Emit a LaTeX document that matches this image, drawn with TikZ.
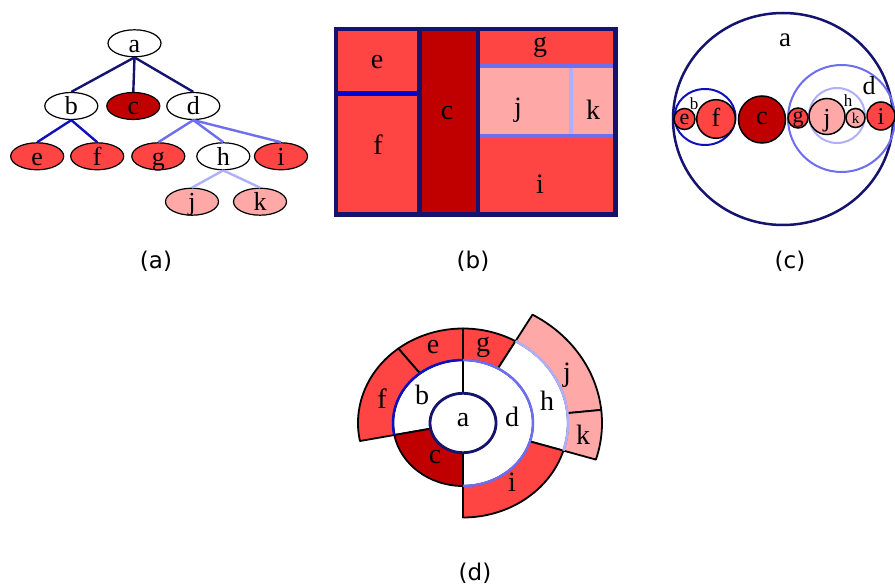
\documentclass[tikz,border=0pt]{standalone}
\usepackage{fontspec}
\setmainfont{Liberation Serif}
\newfontfamily\capfont{DejaVu Sans}
\usetikzlibrary{shapes.geometric}
\definecolor{navy}{RGB}{20,20,110}
\definecolor{dblue}{RGB}{15,15,190}
\definecolor{mblue}{RGB}{110,110,240}
\definecolor{lblue}{RGB}{175,175,250}
\definecolor{redl}{RGB}{255,68,68}
\definecolor{redd}{RGB}{192,0,0}
\definecolor{pinkl}{RGB}{255,168,168}
\newcommand\fs[1]{\fontsize{#1}{#1}\selectfont}
\newcommand\sect[5]{%
  \filldraw[fill=#1,draw=black,line width=1.8pt,line join=round]
    (#2:#4) arc[start angle=#2,end angle=#3,radius=#4] --
    (#3:#5) arc[start angle=#3,end angle=#2,radius=#5] -- cycle;}
\tikzset{
  tnode/.style={ellipse,draw=black,line width=1.2pt,minimum width=53pt,
    minimum height=27pt,inner sep=0pt,text height=18pt,text depth=0pt,font=\fs{26}},
  tedge/.style={line width=2.4pt},
  capt/.style={anchor=base,inner sep=0pt,font=\capfont\fs{23}},
  lbl/.style={anchor=base,inner sep=0pt},
  leaf/.style={draw=black,line width=1.5pt},
}
\begin{document}
\begin{tikzpicture}[x=1pt,y=-1pt]
\useasboundingbox[fill=white] (0,0) rectangle (895,585);
% ---------- (a) tree ----------
\node[tnode] (a) at (134.5,43.3) {a};
\node[tnode] (b) at (71.3,106) {b};
\node[tnode,fill=redd] (c) at (133.3,106) {c};
\node[tnode] (d) at (193.3,106) {d};
\node[tnode,fill=redl] (e) at (37.2,156.3) {e};
\node[tnode,fill=redl] (f) at (97.2,156.3) {f};
\node[tnode,fill=redl] (g) at (158.3,156.3) {g};
\node[tnode] (h) at (223.3,156.3) {h};
\node[tnode,fill=redl] (i) at (281,156.3) {i};
\node[tnode,fill=pinkl] (j) at (192,201.7) {j};
\node[tnode,fill=pinkl] (k) at (260,201.7) {k};
\draw[tedge,navy] (a.south) -- (b.north);
\draw[tedge,navy] (a.south) -- (c.north);
\draw[tedge,navy] (a.south) -- (d.north);
\draw[tedge,dblue] (b.south) -- (e.north);
\draw[tedge,dblue] (b.south) -- (f.north);
\draw[tedge,mblue] (d.south) -- (g.north);
\draw[tedge,mblue] (d.south) -- (h.north);
\draw[tedge,mblue] (d.south) -- (i.north);
\draw[tedge,lblue] (h.south) -- (j.north);
\draw[tedge,lblue] (h.south) -- (k.north);
\node[capt] (capa) at (156,268.3) {(a)};
% ---------- (b) treemap ----------
\fill[redl] (338,31) rectangle (419.5,93.5);
\fill[redl] (338,93.5) rectangle (419.5,212.5);
\fill[redd] (419.5,31) rectangle (477.8,212.5);
\fill[redl] (477.8,31) rectangle (613.3,66.3);
\fill[pinkl] (477.8,66.3) rectangle (613.3,136.3);
\fill[redl] (477.8,136.3) rectangle (613.3,212.5);
\draw[line width=4.6pt,blue!85!black] (338,93.5) -- (417.3,93.5);
\draw[line width=4pt,mblue] (480,66.3) -- (613.3,66.3);
\draw[line width=4pt,mblue] (480,136.3) -- (613.3,136.3);
\draw[line width=4pt,lblue] (570.8,68.3) -- (570.8,134.3);
\draw[line width=4.4pt,navy] (419.5,31) -- (419.5,212.5);
\draw[line width=4.4pt,navy] (477.8,31) -- (477.8,212.5);
\draw[line width=4.5pt,navy] (335.8,28.8) rectangle (615.5,214.7);
\begin{scope}[font=\fs{28}]
\node[lbl] (be) at (377,68.3) {e};
\node[lbl] (bf) at (378,155) {f};
\node[lbl] (bc) at (447,120) {c};
\node[lbl] (bg) at (540,51.7) {g};
\node[lbl] (bj) at (518,116.7) {j};
\node[lbl] (bk) at (593,120) {k};
\node[lbl] (bi) at (540,193.3) {i};
\end{scope}
\node[capt] (capb) at (473,268.3) {(b)};
% ---------- (c) circle packing ----------
\draw[navy,line width=2.5pt] (783,119) ellipse[x radius=110,y radius=106];
\draw[dblue,line width=2pt] (705,117) ellipse[x radius=30.5,y radius=28];
\draw[mblue,line width=2pt] (841.5,118.5) circle[radius=53.5];
\draw[lblue,line width=2pt] (837,115.5) ellipse[x radius=28,y radius=27.5];
\filldraw[leaf,fill=redl] (684.5,119) circle[radius=10.5];
\filldraw[leaf,fill=redl] (716,119) circle[radius=19.3];
\filldraw[leaf,fill=redd] (762,119.5) circle[radius=23.5];
\filldraw[leaf,fill=redl] (798,118) circle[radius=10];
\filldraw[leaf,fill=pinkl] (827,116.5) circle[radius=18];
\filldraw[leaf,fill=pinkl] (855.5,118) circle[radius=9.5];
\filldraw[leaf,fill=redl] (881,116) circle[radius=14];
\node[lbl,font=\fs{27}] (ca) at (785,46.7) {a};
\node[lbl,font=\fs{17}] (cb) at (694,110) {b};
\node[lbl,font=\fs{26}] (cd) at (869,95) {d};
\node[lbl,font=\fs{17}] (ch) at (848,106.7) {h};
\node[lbl,font=\fs{22}] (ce) at (684.5,125) {e};
\node[lbl,font=\fs{26}] (cf) at (716,126.7) {f};
\node[lbl,font=\fs{26}] (cc) at (762,125) {c};
\node[lbl,font=\fs{22}] (cg) at (798,123) {g};
\node[lbl,font=\fs{26}] (cj) at (827,126.7) {j};
\node[lbl,font=\fs{15}] (ck) at (855.5,123.3) {k};
\node[lbl,font=\fs{24}] (ci) at (881,125) {i};
\node[capt] (capc) at (790,268.3) {(c)};
% ---------- (d) sunburst ----------
\begin{scope}[shift={(463,423)},yscale=-0.9]
\sect{white}{90}{191}{33}{70}
\sect{redd}{191}{270}{33}{70}
\sect{white}{-90}{90}{33}{70}
\sect{redl}{90}{128}{70}{105}
\sect{redl}{128}{191}{70}{105}
\sect{redl}{60}{90}{70}{105}
\sect{white}{-17}{60}{70}{105}
\sect{redl}{-90}{-17}{70}{105}
\sect{pinkl}{6}{60}{105}{139}
\sect{pinkl}{-17}{6}{105}{139}
\draw[dblue,line width=2.5pt] (90:70) arc[start angle=90,end angle=191,radius=70];
\draw[mblue,line width=2.5pt] (-90:70) arc[start angle=-90,end angle=90,radius=70];
\draw[lblue,line width=2.5pt] (-17:105) arc[start angle=-17,end angle=60,radius=105];
\filldraw[fill=white,draw=navy,line width=2.8pt] (0,0) circle[radius=33];
\end{scope}
\begin{scope}[font=\fs{28}]
\node[lbl] (da) at (463,426.7) {a};
\node[lbl] (db) at (422,405) {b};
\node[lbl] (dd) at (512,426.7) {d};
\node[lbl] (dh) at (547,410) {h};
\node[lbl] (dc) at (435,463.3) {c};
\node[lbl] (de) at (433,353.3) {e};
\node[lbl] (dg) at (483,351.7) {g};
\node[lbl] (df) at (382,408.3) {f};
\node[lbl] (dj) at (567,381.7) {j};
\node[lbl] (dk) at (583,445) {k};
\node[lbl] (di) at (512,491.7) {i};
\end{scope}
\node[capt] (capd) at (475,580) {(d)};
\end{tikzpicture}
\end{document}
